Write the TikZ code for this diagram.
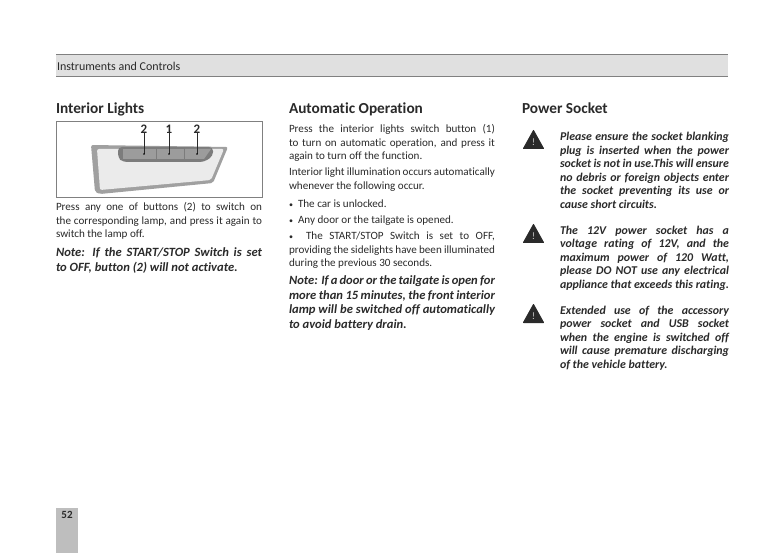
\documentclass[tikz,border=0pt]{standalone}
\usepackage{fontspec}
\setmainfont{Carlito}[Ligatures=NoCommon]
\definecolor{ink}{HTML}{2A2A2A}
\definecolor{bandgray}{HTML}{E0E0E0}
\definecolor{tabgray}{HTML}{BEBEBE}
\definecolor{panelgray}{HTML}{A0A0A0}
\definecolor{recessgray}{HTML}{7C7C7C}
\definecolor{keygray}{HTML}{9C9C9C}
\tikzset{
    every node/.style = {inner sep = 0pt, outer sep = 0pt, text = ink},
    heading/.style = {anchor = base west, font = \fontsize{15.3}{17}\selectfont\bfseries},
    bodytext/.style = {anchor = north west, text width = 206pt, align = justify,
        font = \fontsize{11.1}{13.6}\selectfont},
    notetext/.style = {anchor = north west, text width = 206pt, align = justify,
        font = \fontsize{12.6}{14.8}\selectfont\bfseries\itshape},
    warntext/.style = {anchor = north west, text width = 169pt, align = justify,
        font = \fontsize{11.9}{13.5}\selectfont\bfseries\itshape},
    warnsign/.style = {fill = ink, draw = ink, line join = round, line width = 1pt},
    keylabel/.style = {font = \fontsize{13}{13}\selectfont\bfseries}
}
\newcommand{\warnmark}[3]{%
    \draw[warnsign] (#1+1.5,#2+18.5) -- (#1+11.5,#2+.5) -- (#1+21.5,#2+18.5) -- cycle;
    \node[text = white!80!black, font = \fontsize{10}{10}\selectfont] (#3) at (#1+11.5,#2+12) {!};
}
\begin{document}
\begin{tikzpicture}[x = 1pt, y = -1pt]
    \useasboundingbox (0,0) rectangle (784,553);
    \fill[white] (0,0) rectangle (784,553);
    % top band
    \fill[bandgray] (56,55) rectangle (728,77);
    \draw[gray, line width = 1pt] (56,55) -- (728,55);
    \draw[gray, line width = 1pt] (56,77) -- (728,77);
    \node[anchor = base west, font = \fontsize{12}{14}\selectfont] (bandtitle) at (57,71) {Instruments and Controls};
    % page tab
    \fill[tabgray] (56,508) rectangle (78,553);
    \node[font = \fontsize{11}{13}\selectfont\bfseries] (pagenum) at (67,515) {52};
    % headings
    \node[heading] (headA) at (56,113.5) {Interior Lights};
    \node[heading] (headB) at (289,113.5) {Automatic Operation};
    \node[heading] (headC) at (522,113.5) {Power Socket};
    % switch panel
    \draw[gray, line width = .8pt] (56,121) rectangle (262,197);
    \fill[panelgray, rounded corners = 2pt] (91,145) -- (228,147) -- (213,183) -- (100,194) -- (95,192) -- cycle;
    \fill[white!92!black, rounded corners = 2pt] (97,149) -- (224,149) -- (211,180) -- (100,190) -- cycle;
    \fill[recessgray, rounded corners = 4pt] (118,147) -- (213,147) -- (213,156) -- (204,162) -- (123,162) -- (118,158) -- cycle;
    \fill[keygray] (123,149) rectangle (156,159);
    \fill[keygray] (157,149) rectangle (184,159);
    \fill[keygray] (185,149) -- (211,149) -- (204,159) -- (185,159) -- cycle;
    \node[keylabel] (labelL) at (144,129) {2};
    \node[keylabel] (labelM) at (169,129) {1};
    \node[keylabel] (labelR) at (197,129) {2};
    \coordinate (keyL) at (144,154);
    \coordinate (keyM) at (169,154);
    \coordinate (keyR) at (197,154);
    \draw[ink, line width = .6pt] (labelL) -- (keyL);
    \draw[ink, line width = .6pt] (labelM) -- (keyM);
    \draw[ink, line width = .6pt] (labelR) -- (keyR);
    \fill[black] (keyL) circle (.9);
    \fill[black] (keyM) circle (.9);
    \fill[black] (keyR) circle (.9);
    % first column
    \node[bodytext] (introA) at (56,202.5) {Press any one of buttons (2) to switch on\linebreak
        the corresponding lamp, and press it again to\linebreak switch the lamp off.};
    \node[notetext] (noteA) at (56,247.5) {Note: If the START/STOP Switch is set\linebreak
        to OFF, button (2) will not activate.};
    % second column
    \node[bodytext] (introB) at (289,124.5) {Press the interior lights switch button (1)\linebreak
        to turn on automatic operation, and press it\linebreak again to turn off the function.};
    \node[bodytext] (whenB) at (289,168) {Interior light illumination occurs automatically\linebreak
        whenever the following occur.};
    \node[bodytext] (itemA) at (289,199.5) {{\footnotesize•}\ \ The car is unlocked.};
    \node[bodytext] (itemB) at (289,215.5) {{\footnotesize•}\ \ Any door or the tailgate is opened.};
    \node[bodytext] (itemC) at (289,232) {{\footnotesize•}\ \ The START/STOP Switch is set to OFF,\linebreak
        providing the sidelights have been illuminated\linebreak during the previous 30 seconds.};
    \node[notetext] (noteB) at (289,275.5) {Note: If a door or the tailgate is open for\linebreak
        more than 15 minutes, the front interior\linebreak
        lamp will be switched off automatically\linebreak to avoid battery drain.};
    % third column
    \warnmark{522}{130}{markA}
    \warnmark{522}{224}{markB}
    \warnmark{522}{304}{markC}
    \node[warntext] (warnA) at (560,132.5) {Please ensure the socket blanking\linebreak
        plug is inserted when the power\linebreak
        socket is not in use.This will ensure\linebreak
        no debris or foreign objects enter\linebreak
        the socket preventing its use or\linebreak cause short circuits.};
    \node[warntext] (warnB) at (560,226) {The 12V power socket has a\linebreak
        voltage rating of 12V, and the\linebreak
        maximum power of 120 Watt,\linebreak
        please DO NOT use any electrical\linebreak
        \makebox[\linewidth][s]{appliance that exceeds this rating.}};
    \node[warntext] (warnC) at (560,306) {Extended use of the accessory\linebreak
        power socket and USB socket\linebreak
        when the engine is switched off\linebreak
        will cause premature discharging\linebreak of the vehicle battery.};
\end{tikzpicture}
\end{document}
